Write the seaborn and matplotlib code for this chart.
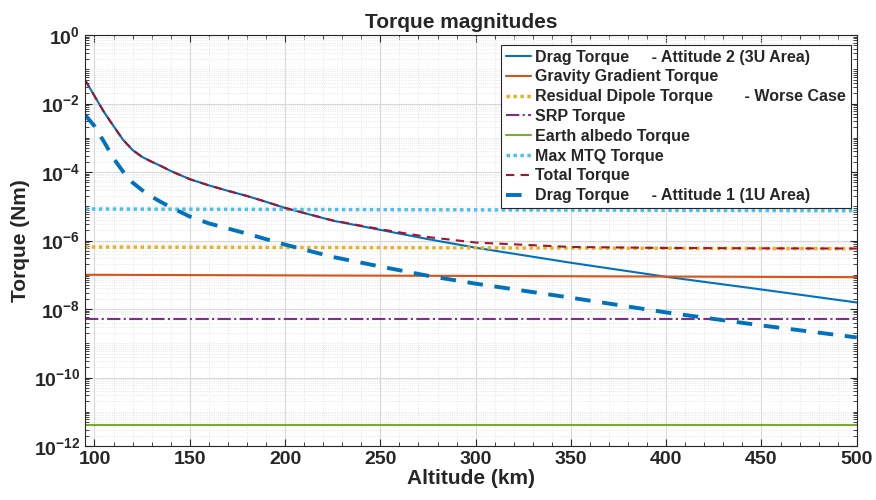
import numpy as np
import pandas as pd
import seaborn as sns
import matplotlib
matplotlib.use("Agg")
import matplotlib.pyplot as plt
from matplotlib.ticker import MultipleLocator, LogLocator, NullFormatter

# altitude grid (km)
altitude = [95, 100, 105, 110, 115, 120, 125, 130, 135, 140, 150, 160, 170, 180, 190,
            200, 225, 250, 275, 300, 350, 400, 450, 500]

# log10 of torque values
drag_att2_log = [-1.31, -1.78, -2.25, -2.66, -3.06, -3.36, -3.56, -3.70, -3.83, -3.97,
                 -4.21, -4.39, -4.55, -4.70, -4.87, -5.05, -5.42, -5.69, -5.96, -6.21,
                 -6.65, -7.06, -7.43, -7.81]
drag_att1_log = [-2.33, -2.66, -3.12, -3.60, -3.99, -4.31, -4.53, -4.72, -4.88, -5.03,
                 -5.30, -5.50, -5.65, -5.80, -5.96, -6.12, -6.48, -6.76, -7.03, -7.26,
                 -7.67, -8.10, -8.48, -8.83]
gravity_log = [-7.00, -7.07]       # at 95 km / 500 km
dipole_log = [-6.19, -6.24]
srp_log = [-8.29, -8.29]
albedo_log = [-11.39, -11.39]
mtq_log = [-5.08, -5.13]

alt = np.array(altitude, dtype=float)
ends = [alt[0], alt[-1]]

df = pd.DataFrame({"alt": alt})
df["drag2"] = 10 ** np.array(drag_att2_log)
df["drag1"] = 10 ** np.array(drag_att1_log)
df["gg"] = 10 ** np.interp(alt, ends, gravity_log)
df["dipole"] = 10 ** np.interp(alt, ends, dipole_log)
df["srp"] = 10 ** np.interp(alt, ends, srp_log)
df["albedo"] = 10 ** np.interp(alt, ends, albedo_log)
df["mtq"] = 10 ** np.interp(alt, ends, mtq_log)
# total = root-sum-square of the disturbance torques
df["total"] = np.sqrt((df[["drag2", "gg", "dipole", "srp", "albedo"]] ** 2).sum(axis=1))

sns.set_style("ticks")
plt.rcParams["font.family"] = ["Liberation Sans", "DejaVu Sans"]
plt.rcParams["font.weight"] = "bold"

fig = plt.figure(figsize=(8.76, 5), dpi=100)
ax = fig.add_axes([0.097, 0.108, 0.881, 0.822])

series = [
    ("drag2", "Drag Torque     - Attitude 2 (3U Area)", "#0072BD", "-", 1.5),
    ("gg", "Gravity Gradient Torque", "#D95319", "-", 1.5),
    ("dipole", "Residual Dipole Torque       - Worse Case", "#EDB120", (0, (1, 1)), 2.5),
    ("srp", "SRP Torque", "#7E2F8E", "-.", 1.5),
    ("albedo", "Earth albedo Torque", "#77AC30", "-", 1.5),
    ("mtq", "Max MTQ Torque", "#4DBEEE", (0, (1, 1)), 2.5),
    ("total", "Total Torque", "#A2142F", (0, (4, 3)), 1.5),
    ("drag1", "Drag Torque     - Attitude 1 (1U Area)", "#0072BD", (0, (4, 3)), 2.8),
]
for col, label, color, ls, lw in series:
    sns.lineplot(data=df, x="alt", y=col, ax=ax, color=color, linestyle=ls,
                 linewidth=lw, label=label)

ax.set_yscale("log")
ax.set_xlim(95, 500)
ax.set_ylim(1e-12, 1)
ax.set_yticks([10.0 ** k for k in range(-12, 1, 2)])
ax.yaxis.set_minor_locator(LogLocator(base=10, subs=np.arange(1, 10), numticks=100))
ax.yaxis.set_minor_formatter(NullFormatter())
ax.set_xticks([100, 150, 200, 250, 300, 350, 400, 450, 500])
ax.xaxis.set_minor_locator(MultipleLocator(10))

ax.grid(which="major", color="#d9d9d9", linewidth=0.8)
ax.grid(which="minor", color="#e0e0e0", linewidth=0.6, linestyle=":")
ax.set_axisbelow(True)
ax.tick_params(which="both", direction="in", top=True, right=True, labelsize=14)
ax.tick_params(which="major", length=5)
ax.tick_params(which="minor", length=3)
for s in ax.spines.values():
    s.set_color("#262626")
    s.set_linewidth(0.8)

ax.set_xlabel("Altitude (km)", fontsize=15, fontweight="bold", labelpad=1)
ax.set_ylabel("Torque (Nm)", fontsize=15, fontweight="bold", labelpad=3)
ax.set_title("Torque magnitudes", fontsize=15, fontweight="bold", pad=5, x=0.487)

leg = ax.legend(loc="upper right", fontsize=11.5, handlelength=1.55, handletextpad=0.25,
                labelspacing=0.3, borderpad=0.3, borderaxespad=0, fancybox=False,
                framealpha=1, bbox_to_anchor=(0.992, 0.976))
leg.get_frame().set_edgecolor("#262626")
leg.get_frame().set_linewidth(0.8)
for t in leg.get_texts():
    t.set_fontweight("bold")

fig.savefig("out.png", dpi=100)
